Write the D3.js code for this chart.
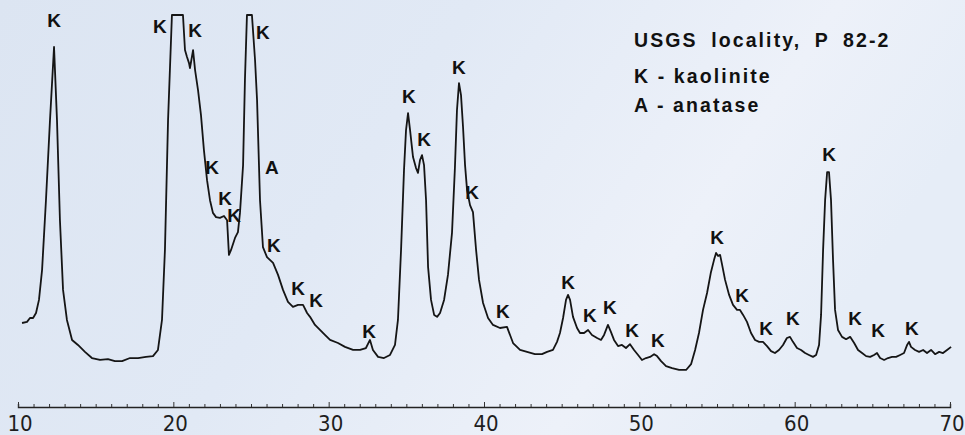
<!DOCTYPE html>
<html>
<head>
<meta charset="utf-8">
<script src="https://cdn.jsdelivr.net/npm/d3@7"></script>
<style>
  html, body { margin: 0; padding: 0; }
  body { width: 965px; height: 435px; overflow: hidden; }
</style>
</head>
<body>
<div id="xrd_graph"></div>
<script>
// diffraction trace: 2-theta (degrees) and relative intensity (recorder saturates at 100)
var two_theta = [10.26,10.58,10.77,10.97,11.16,11.35,11.55,11.80,12.06,12.32,12.51,12.70,12.90,13.15,13.48,13.86,14.31,14.76,15.28,15.79,16.24,16.70,17.21,17.73,18.24,18.69,19.01,19.27,19.46,19.66,19.91,20.62,20.75,20.88,21.01,21.07,21.14,21.27,21.40,21.59,21.78,21.97,22.17,22.36,22.55,22.75,23.00,23.26,23.46,23.58,23.71,23.97,24.16,24.29,24.49,24.61,24.74,25.06,25.26,25.39,25.58,25.77,26.03,26.42,26.74,27.06,27.38,27.70,28.03,28.35,28.61,28.80,29.12,29.44,29.76,30.09,30.60,31.05,31.57,32.02,32.40,32.66,32.85,33.18,33.56,33.95,34.27,34.46,34.66,34.85,34.98,35.11,35.24,35.43,35.62,35.75,35.88,36.01,36.14,36.27,36.40,36.59,36.79,36.98,37.17,37.43,37.68,37.94,38.13,38.26,38.39,38.52,38.65,38.78,38.91,39.10,39.29,39.49,39.68,39.94,40.26,40.58,41.03,41.48,41.87,42.32,42.77,43.28,43.73,44.06,44.44,44.70,44.89,45.09,45.28,45.41,45.54,45.73,45.99,46.18,46.44,46.70,46.95,47.28,47.53,47.73,47.98,48.17,48.37,48.63,48.88,49.14,49.40,49.66,49.92,50.17,50.43,50.69,50.95,51.14,51.40,51.72,52.11,52.56,53.01,53.33,53.59,53.84,54.10,54.36,54.61,54.81,54.94,55.07,55.20,55.33,55.52,55.78,56.03,56.29,56.48,56.68,56.93,57.19,57.45,57.71,57.96,58.22,58.48,58.73,58.99,59.25,59.50,59.70,59.89,60.15,60.41,60.67,60.92,61.18,61.38,61.57,61.70,61.83,61.96,62.09,62.21,62.34,62.47,62.60,62.79,63.05,63.31,63.57,63.83,64.08,64.34,64.60,64.86,65.11,65.30,65.50,65.76,66.01,66.27,66.53,66.79,67.04,67.24,67.36,67.49,67.75,68.01,68.27,68.52,68.78,69.04,69.30,69.55,69.81,70.07];
var intensity = [20.0,20.3,21.3,21.3,22.6,26.0,33.8,51.9,72.7,91.7,72.7,46.7,28.6,20.8,15.6,14.3,12.5,10.9,10.4,10.6,10.1,10.1,10.9,10.9,11.2,11.4,13.0,20.8,39.0,72.7,100,100,90.9,89.1,87.5,86.2,87.8,90.9,85.7,80.5,74.0,64.9,57.1,51.9,48.6,47.5,47.3,47.8,46.7,37.7,38.9,42.1,43.6,48.6,61.0,83.1,100,100,88.3,77.9,51.9,39.7,37.1,35.6,32.5,28.6,25.5,24.2,24.7,24.7,22.6,21.6,19.5,18.2,16.9,15.6,14.8,13.8,13.0,13.0,13.5,15.6,13.0,11.2,10.9,11.7,14.3,20.8,39.0,59.7,70.1,74.5,70.1,63.1,60.3,59.0,62.3,63.6,61.0,51.9,34.5,26.0,22.1,21.6,22.6,26.0,32.5,43.4,60.5,75.3,82.3,79.2,70.9,61.0,54.5,50.6,48.8,39.0,31.2,25.2,21.3,19.5,18.7,19.0,14.8,13.0,12.5,11.9,11.9,12.5,13.0,15.1,17.4,21.3,26.0,27.3,26.0,21.6,18.7,17.4,17.4,18.2,16.9,16.1,15.6,16.9,19.5,17.7,15.6,14.0,14.3,13.5,14.5,13.0,11.7,10.4,10.9,11.2,11.9,11.4,10.1,8.8,8.3,7.8,7.8,9.3,13.0,17.4,23.4,27.8,33.2,36.4,38.2,37.4,37.7,35.1,31.2,27.3,24.7,23.4,23.4,22.1,20.3,17.4,15.6,15.1,15.1,14.0,12.7,12.2,13.0,14.3,16.1,16.4,15.1,13.5,13.0,12.2,11.7,11.2,11.7,14.3,22.1,39.0,51.9,59.2,59.2,51.9,36.4,23.4,18.2,16.4,15.8,16.4,14.8,13.0,12.2,11.4,11.2,11.7,12.2,10.9,10.4,10.9,11.2,11.2,11.7,12.2,14.3,15.1,13.8,13.0,12.5,13.0,12.2,13.0,11.9,12.5,12.2,13.0,13.8];

// peak labels: mineral letter, 2-theta and label height (intensity units)
var peak_text  = ['K','K','K','K','K','K','K','A','K','K','K','K','K','K','K','K','K','K','K','K','K','K','K','K','K','K','K','K','K','K'];
var peak_theta = [12.32,19.14,21.40,25.77,22.49,23.33,23.91,26.35,26.48,28.03,29.19,32.60,35.17,36.14,38.39,39.23,41.22,45.41,46.82,48.11,49.53,51.20,55.00,56.61,58.16,59.89,62.21,63.89,65.37,67.55];
var peak_level = [98.7,97.1,96.1,95.6,60.5,52.5,48.1,60.5,40.3,29.1,26.0,17.9,79.0,67.8,86.5,54.0,23.1,30.6,22.1,24.2,18.2,15.6,42.3,27.3,18.7,21.3,64.0,21.3,18.2,18.7];

var legend_lines = ['USGS locality, P 82-2', 'K - kaolinite', 'A - anatase'];
var x_ticks = [10, 20, 30, 40, 50, 60, 70];

function draw_xrd() {
    var width = 965,
        height = 435;

    var svg = d3.select('#xrd_graph').append('svg')
        .attr('width', width)
        .attr('height', height);

    // scanned paper look
    var defs = svg.append('defs');
    var grad = defs.append('linearGradient')
        .attr('id', 'paper')
        .attr('x1', '0').attr('y1', '0')
        .attr('x2', '1').attr('y2', '0.3');
    grad.append('stop').attr('offset', '0').attr('stop-color', '#dce5f2');
    grad.append('stop').attr('offset', '0.45').attr('stop-color', '#e1e9f5');
    grad.append('stop').attr('offset', '0.8').attr('stop-color', '#edf1f9');
    grad.append('stop').attr('offset', '1').attr('stop-color', '#e6edf7');

    svg.append('rect')
        .attr('width', width).attr('height', height)
        .attr('fill', 'url(#paper)');

    var x = d3.scaleLinear()
        .domain([10, 70])
        .range([18, 950]);

    var y = d3.scaleLinear()
        .domain([0, 100])
        .range([400, 15])
        .clamp(true);

    var pts = two_theta.map((t, i) => [t, intensity[i]]);

    var line = d3.line()
        .x(d => x(d[0]))
        .y(d => y(d[1]));

    svg.append('path')
        .datum(pts)
        .attr('d', line)
        .attr('fill', 'none')
        .attr('stroke', '#151515')
        .attr('stroke-width', 1.8)
        .attr('stroke-linejoin', 'round');

    // baseline axis, ticks pointing up
    var axis_y = 407;
    var xAxis = d3.axisTop(x)
        .ticks(60)
        .tickSize(3)
        .tickFormat('');

    var ax = svg.append('g')
        .attr('transform', 'translate(0,' + axis_y + ')')
        .call(xAxis);
    ax.select('.domain')
        .attr('stroke', '#222')
        .attr('stroke-width', 1.4);
    ax.selectAll('.tick line')
        .attr('stroke', '#333')
        .attr('stroke-width', 1)
        .attr('y2', d => d % 10 == 0 ? -5 : -3);

    svg.append('g').selectAll('text')
        .data(x_ticks)
        .enter().append('text')
        .attr('x', d => x(d) + 2)
        .attr('y', 431)
        .attr('text-anchor', 'middle')
        .style('font-family', '"Liberation Sans Narrow", "DejaVu Sans Condensed", sans-serif')
        .style('font-size', '22px')
        .style('fill', '#1e1e1e')
        .text(d => d);

    // peak annotations
    svg.append('g').selectAll('text')
        .data(peak_theta)
        .enter().append('text')
        .attr('x', d => x(d))
        .attr('y', (d, i) => y(peak_level[i]) + 7)
        .attr('text-anchor', 'middle')
        .style('font-family', '"Liberation Sans", Arial, sans-serif')
        .style('font-weight', 'bold')
        .style('font-size', '19px')
        .style('fill', '#111')
        .text((d, i) => peak_text[i]);

    // legend block
    var leg_y = [47, 83, 112];
    svg.append('g').selectAll('text')
        .data(legend_lines)
        .enter().append('text')
        .attr('x', 634)
        .attr('y', (d, i) => leg_y[i])
        .style('font-family', '"Liberation Sans", Arial, sans-serif')
        .style('font-weight', 'bold')
        .style('font-size', '19.5px')
        .style('letter-spacing', '2.1px')
        .style('word-spacing', (d, i) => i == 0 ? '6px' : '0px')
        .style('fill', '#111')
        .text(d => d);
}

draw_xrd();
</script>
</body>
</html>
